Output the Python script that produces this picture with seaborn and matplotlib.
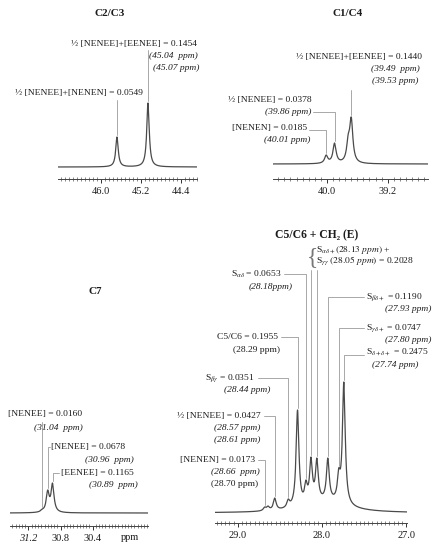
import numpy as np
import matplotlib
matplotlib.use("Agg")
import matplotlib.pyplot as plt
from matplotlib.ticker import MultipleLocator
import seaborn as sns

W, H = 436, 550

# peak positions (ppm) and peak heights
c23_ppm = [45.68, 45.06]
c23_height = [30, 64]
c14_ppm = [40.01, 39.90, 39.72, 39.68]
c14_height = [9, 21, 30, 47]
c7_ppm = [31.03, 30.96, 30.90]
c7_height = [4, 23, 30]
c56_ppm = [28.68, 28.64, 28.56, 28.40, 28.29, 28.19, 28.13, 28.06, 27.93, 27.80, 27.74]
c56_height = [6, 7, 15, 14, 103, 33, 56, 55, 55, 45, 131]
c56_hump = (27.95, 0.30, 10)  # broad envelope under the C5/C6 lines

# tick labels
c23_ticks = [46.0, 45.2, 44.4]
c14_ticks = [40.0, 39.2]
c7_ticks = [31.2, 30.8, 30.4]
c56_ticks = [29.0, 28.0, 27.0]

TXT = "#1c1c1c"
LINE = "#9a9a9a"
TRACE = "#4a4a4a"
FS = 6.8


def lorentz(x, x0, w):
    return 1.0 / (1.0 + ((x - x0) / w) ** 2)


def spectrum(x, ppm, height, width, hump=None):
    ppm = np.asarray(ppm, float)
    target = np.asarray(height, float)
    base = np.zeros_like(x)
    if hump is not None:
        c, hw, h = hump
        base = h * lorentz(x, c, hw)
        target = target - h * lorentz(ppm, c, hw)
    # amplitudes so the summed curve hits the read peak heights
    m = lorentz(ppm[:, None], ppm[None, :], width)
    amp = np.linalg.solve(m, target)
    return base + (amp[None, :] * lorentz(x[:, None], ppm[None, :], width)).sum(axis=1)


sns.set_theme(style="ticks")
plt.rcParams["font.family"] = ["Liberation Serif", "DejaVu Serif"]
plt.rcParams["mathtext.fontset"] = "stix"

fig = plt.figure(figsize=(W / 100, H / 100), dpi=100)


def panel(left, right, top, axis_y, base_y, xlim, ppm, height, width, ticks, minor, hump=None):
    ax = fig.add_axes([left / W, 1 - axis_y / H, (right - left) / W, (axis_y - top) / H])
    x = np.linspace(xlim[0], xlim[1], 3000)
    sns.lineplot(x=x, y=spectrum(x, ppm, height, width, hump), ax=ax,
                 color=TRACE, linewidth=0.9)
    ax.set_xlim(*xlim)
    ax.set_ylim(base_y - axis_y, base_y - top)
    ax.set_xticks(ticks)
    ax.set_xticklabels([f"{t:.1f}" for t in ticks])
    ax.xaxis.set_minor_locator(MultipleLocator(minor))
    ax.tick_params(axis="x", which="major", bottom=True, direction="out", length=3,
                   width=0.7, labelsize=7.5, pad=3, colors="#333333", labelcolor=TXT)
    ax.tick_params(axis="x", which="minor", bottom=True, direction="inout", length=2.2,
                   width=0.5, colors="#555555")
    ax.set_yticks([])
    ax.set_xlabel("")
    ax.set_ylabel("")
    for s in ["top", "left", "right"]:
        ax.spines[s].set_visible(False)
    ax.spines["bottom"].set_linewidth(0.7)
    ax.spines["bottom"].set_color("#444444")
    ax.patch.set_alpha(0)
    return ax


def txt(xp, yp, s, ha="left", style="normal", size=FS, weight="normal"):
    fig.text(xp / W, 1 - yp / H, s, ha=ha, va="center", fontsize=size,
             style=style, weight=weight, color=TXT)


def leader(ax, px, ph, yp, xp=None):
    # vertical from pixel row yp down to the peak, optional elbow to label end xp
    inv = ax.transData.inverted()
    _, y0 = inv.transform((0, H - yp))
    xs, ys = [px, px], [y0, ph + 2]
    if xp is not None:
        x1, _ = inv.transform((xp, H - yp))
        xs, ys = [x1] + xs, [y0] + ys
    ax.plot(xs, ys, color=LINE, lw=0.6, clip_on=False)


# C2/C3
ax1 = panel(58, 197, 30, 179, 167, (46.86, 44.08), c23_ppm, c23_height, 0.03,
            c23_ticks, 0.08)
txt(110, 13, "C2/C3", ha="center", size=8, weight="bold")
txt(197, 44, "½ [NENEE]+[EENEE] = 0.1454", ha="right")
txt(198, 56, "(45.04  ppm)", ha="right", style="italic")
txt(199, 68, "(45.07 ppm)", ha="right", style="italic")
txt(143, 93, "½ [NENEE]+[NENEN] = 0.0549", ha="right")
leader(ax1, c23_ppm[1], c23_height[1], 50)
leader(ax1, c23_ppm[0], c23_height[0], 100)

# C1/C4
ax2 = panel(273, 428, 30, 179, 164, (40.71, 38.67), c14_ppm, c14_height, 0.025,
            c14_ticks, 0.08)
txt(348, 13, "C1/C4", ha="center", size=8, weight="bold")
txt(422, 57, "½ [NENEE]+[EENEE] = 0.1440", ha="right")
txt(420, 69, "(39.49  ppm)", ha="right", style="italic")
txt(418, 81, "(39.53 ppm)", ha="right", style="italic")
txt(312, 100, "½ [NENEE] = 0.0378", ha="right")
txt(311, 112, "(39.86 ppm)", ha="right", style="italic")
txt(307, 128, "[NENEN] = 0.0185", ha="right")
txt(310, 140, "(40.01 ppm)", ha="right", style="italic")
leader(ax2, c14_ppm[3], c14_height[3], 90)
leader(ax2, c14_ppm[1], c14_height[1], 112, xp=313)
leader(ax2, c14_ppm[0], c14_height[0], 130, xp=309)

# C7
ax3 = panel(10, 148, 300, 526, 513, (31.43, 29.71), c7_ppm, c7_height, 0.022,
            c7_ticks, 0.04)
for lbl in ax3.get_xticklabels():
    if lbl.get_text() == "31.2":
        lbl.set_style("italic")
txt(95, 291, "C7", ha="center", size=8, weight="bold")
txt(130, 538, "ppm", ha="center", size=7.5)
txt(8, 414, "[NENEE] = 0.0160")
txt(83, 428, "(31.04  ppm)", ha="right", style="italic")
txt(51, 447, "[NENEE] = 0.0678")
txt(134, 460, "(30.96  ppm)", ha="right", style="italic")
txt(61, 473, "[EENEE] = 0.1165")
txt(138, 485, "(30.89  ppm)", ha="right", style="italic")
leader(ax3, c7_ppm[0], c7_height[0], 422)
leader(ax3, c7_ppm[1], c7_height[1], 447, xp=50)
leader(ax3, c7_ppm[2], c7_height[2], 473, xp=59)

# C5/C6 + CH2 (E)
ax4 = panel(215, 407, 250, 523, 513, (29.27, 26.99), c56_ppm, c56_height, 0.02,
            c56_ticks, 0.05, hump=c56_hump)
txt(317, 235, "C5/C6 + CH₂ (E)", ha="center", size=8.4, weight="bold")
fig.text(312 / W, 1 - 258 / H, "{", ha="center", va="center", fontsize=17,
         color="#777777")
txt(316, 250, r"S$_{\alpha\delta+}$$\mathit{(28.13\ ppm)}$ +")
txt(316, 261, r"S$_{\gamma\gamma}$ $\mathit{(28.05\ ppm)}$ = 0.2028")
txt(281, 274, r"S$_{\alpha\delta}$ = 0.0653", ha="right")
txt(293, 287, "(28.18ppm)", ha="right", style="italic")
txt(278, 337, "C5/C6 = 0.1955", ha="right")
txt(280, 350, "(28.29 ppm)", ha="right")
txt(255, 378, r"S$_{\beta\gamma}$ = 0.0351", ha="right")
txt(270, 390, "(28.44 ppm)", ha="right", style="italic")
txt(261, 416, "½ [NENEE] = 0.0427", ha="right")
txt(260, 428, "(28.57 ppm)", ha="right", style="italic")
txt(260, 440, "(28.61 ppm)", ha="right", style="italic")
txt(255, 460, "[NENEN] = 0.0173", ha="right")
txt(260, 472, "(28.66  ppm)", ha="right", style="italic")
txt(258, 484, "(28.70 ppm)", ha="right")
txt(366, 297, r"S$_{\beta\delta+}$ = 0.1190")
txt(431, 309, "(27.93 ppm)", ha="right", style="italic")
txt(366, 328, r"S$_{\gamma\delta+}$ = 0.0747")
txt(431, 340, "(27.80 ppm)", ha="right", style="italic")
txt(366, 352, r"S$_{\delta+\delta+}$ = 0.2475")
txt(418, 365, "(27.74 ppm)", ha="right", style="italic")
leader(ax4, c56_ppm[6], c56_height[6], 270)
leader(ax4, c56_ppm[7], c56_height[7], 270)
leader(ax4, c56_ppm[5], c56_height[5], 274, xp=284)
leader(ax4, c56_ppm[4], c56_height[4], 337, xp=281)
leader(ax4, c56_ppm[3], c56_height[3], 378, xp=258)
leader(ax4, c56_ppm[2], c56_height[2], 416, xp=264)
leader(ax4, c56_ppm[0], c56_height[0], 460, xp=258)
leader(ax4, c56_ppm[8], c56_height[8], 297, xp=364)
leader(ax4, c56_ppm[9], c56_height[9], 328, xp=364)
leader(ax4, c56_ppm[10], c56_height[10], 355, xp=364)

fig.savefig("out.png", dpi=100, facecolor="white")
